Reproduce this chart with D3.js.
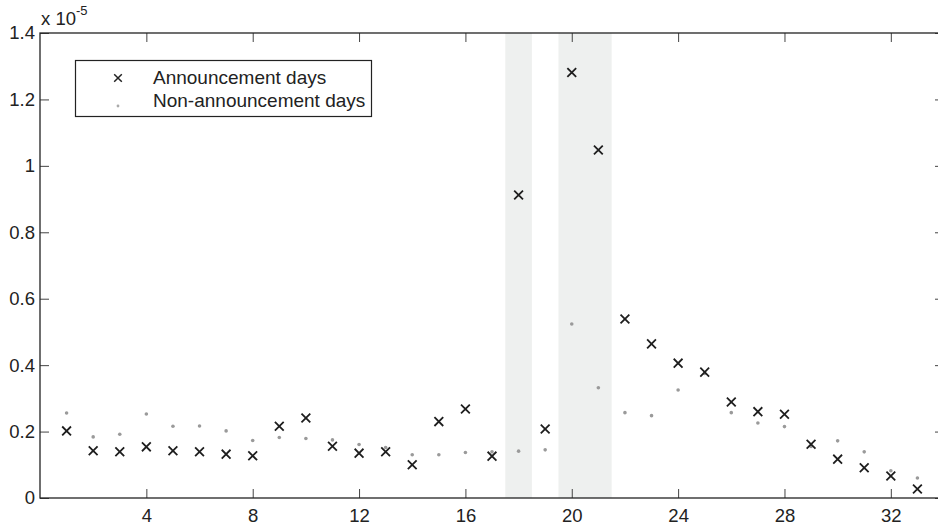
<!DOCTYPE html>
<html>
<head>
<meta charset="utf-8">
<script src="https://cdn.jsdelivr.net/npm/d3@7"></script>
<style>
  body { margin: 0; background: #fff; }
  text { font-family: "Liberation Sans", Arial, sans-serif; fill: #222; }
</style>
</head>
<body>
<div id="chart"></div>
<script>
// days 1..33, values in units of 1e-5
var days = d3.range(1, 34);
var announcement = [0.202, 0.142, 0.139, 0.154, 0.142, 0.139, 0.132, 0.127, 0.216, 0.241,
    0.156, 0.135, 0.139, 0.100, 0.230, 0.268, 0.126, 0.912, 0.208, 1.281,
    1.048, 0.539, 0.464, 0.406, 0.379, 0.289, 0.260, 0.252, 0.162, 0.117,
    0.091, 0.066, 0.027];
var nonAnnouncement = [0.256, 0.184, 0.192, 0.253, 0.216, 0.217, 0.202, 0.173, 0.182, 0.179,
    0.175, 0.161, 0.152, 0.130, 0.130, 0.137, 0.139, 0.141, 0.145, 0.524,
    0.332, 0.257, 0.248, 0.325, 0.375, 0.257, 0.226, 0.215, 0.155, 0.172,
    0.139, 0.082, 0.060];
// shaded windows [from, to]
var bands = [[17.5, 18.5], [19.5, 21.5]];
var xTicks = [4, 8, 12, 16, 20, 24, 28, 32];
var yTicks = [0, 0.2, 0.4, 0.6, 0.8, 1, 1.2, 1.4];
var legendLabels = ["Announcement days", "Non-announcement days"];

const svgDimentions = { width: 938, height: 530 };
const margins = { top: 33, bottom: 32, left: 40, right: -6 };

var svg = d3.select("#chart").append("svg")
    .attr("width", svgDimentions.width)
    .attr("height", svgDimentions.height);

var scaleX = d3.scaleLinear()
    .domain([0, 34])
    .range([margins.left, svgDimentions.width - margins.right]);

var scaleY = d3.scaleLinear()
    .domain([0, 1.4])
    .range([svgDimentions.height - margins.bottom, margins.top]);

var x0 = scaleX.range()[0], x1 = scaleX.range()[1];
var y0 = scaleY.range()[0], y1 = scaleY.range()[1];

// grey windows behind the points
svg.selectAll(".band")
    .data(bands)
    .enter().append("rect")
    .attr("class", "band")
    .attr("x", d => scaleX(d[0]))
    .attr("y", y1)
    .attr("width", d => scaleX(d[1]) - scaleX(d[0]))
    .attr("height", y0 - y1)
    .attr("fill", "#eef0ef");

function styleAxis(g, showText) {
    g.select(".domain").remove();
    g.selectAll(".tick line").attr("stroke", "#444").attr("stroke-width", 1);
    g.selectAll(".tick text")
        .attr("font-size", 18.5)
        .attr("fill", "#222")
        .style("display", showText ? null : "none");
}

svg.append("g")
    .attr("transform", "translate(0," + y0 + ")")
    .call(d3.axisBottom(scaleX).tickValues(xTicks).tickSize(-9).tickPadding(11).tickFormat(d3.format("d")))
    .call(g => styleAxis(g, true));

svg.append("g")
    .attr("transform", "translate(0," + y1 + ")")
    .call(d3.axisTop(scaleX).tickValues(xTicks).tickSize(-9))
    .call(g => styleAxis(g, false));

svg.append("g")
    .attr("transform", "translate(" + x0 + ",0)")
    .call(d3.axisLeft(scaleY).tickValues(yTicks).tickSize(-9).tickPadding(5).tickFormat(d => d3.format("~g")(d)))
    .call(g => styleAxis(g, true));

svg.append("g")
    .attr("transform", "translate(" + x1 + ",0)")
    .call(d3.axisRight(scaleY).tickValues(yTicks).tickSize(-9))
    .call(g => styleAxis(g, false));

// box
svg.append("rect")
    .attr("x", x0).attr("y", y1)
    .attr("width", x1 - x0).attr("height", y0 - y1)
    .attr("fill", "none")
    .attr("stroke", "#222")
    .attr("stroke-width", 1.3);

// exponent label
var expo = svg.append("text")
    .attr("x", 41).attr("y", 25)
    .attr("font-size", 18.5);
expo.append("tspan").text("x 10");
expo.append("tspan").attr("font-size", 13).attr("dy", -10).text("-5");

function cross(sel, s) {
    sel.append("path")
        .attr("d", "M" + (-s) + "," + (-s) + "L" + s + "," + s + "M" + (-s) + "," + s + "L" + s + "," + (-s));
}

var pts = days.map((d, i) => ({ day: d, a: announcement[i], n: nonAnnouncement[i] }));

svg.selectAll(".dot")
    .data(pts)
    .enter().append("circle")
    .attr("class", "dot")
    .attr("cx", d => scaleX(d.day))
    .attr("cy", d => scaleY(d.n))
    .attr("r", 1.8)
    .attr("fill", "#9a9a9a");

svg.selectAll(".cross")
    .data(pts)
    .enter().append("g")
    .attr("class", "cross")
    .attr("transform", d => "translate(" + scaleX(d.day) + "," + scaleY(d.a) + ")")
    .attr("stroke", "#1e1e1e")
    .attr("stroke-width", 1.8)
    .call(cross, 4.4);

// legend
var legend = svg.append("g");
legend.append("rect")
    .attr("x", 75.5).attr("y", 60.5)
    .attr("width", 296).attr("height", 56)
    .attr("fill", "#fff")
    .attr("stroke", "#222")
    .attr("stroke-width", 1.2);

legend.append("g")
    .attr("transform", "translate(118,78)")
    .attr("stroke", "#222")
    .attr("stroke-width", 1.5)
    .call(cross, 3.8);
legend.append("circle")
    .attr("cx", 118).attr("cy", 106)
    .attr("r", 1.4)
    .attr("fill", "#aaa");

legend.selectAll(".lab")
    .data(legendLabels)
    .enter().append("text")
    .attr("class", "lab")
    .attr("x", 153)
    .attr("y", (d, i) => 84 + i * 23)
    .attr("font-size", 19)
    .text(d => d);
</script>
</body>
</html>
